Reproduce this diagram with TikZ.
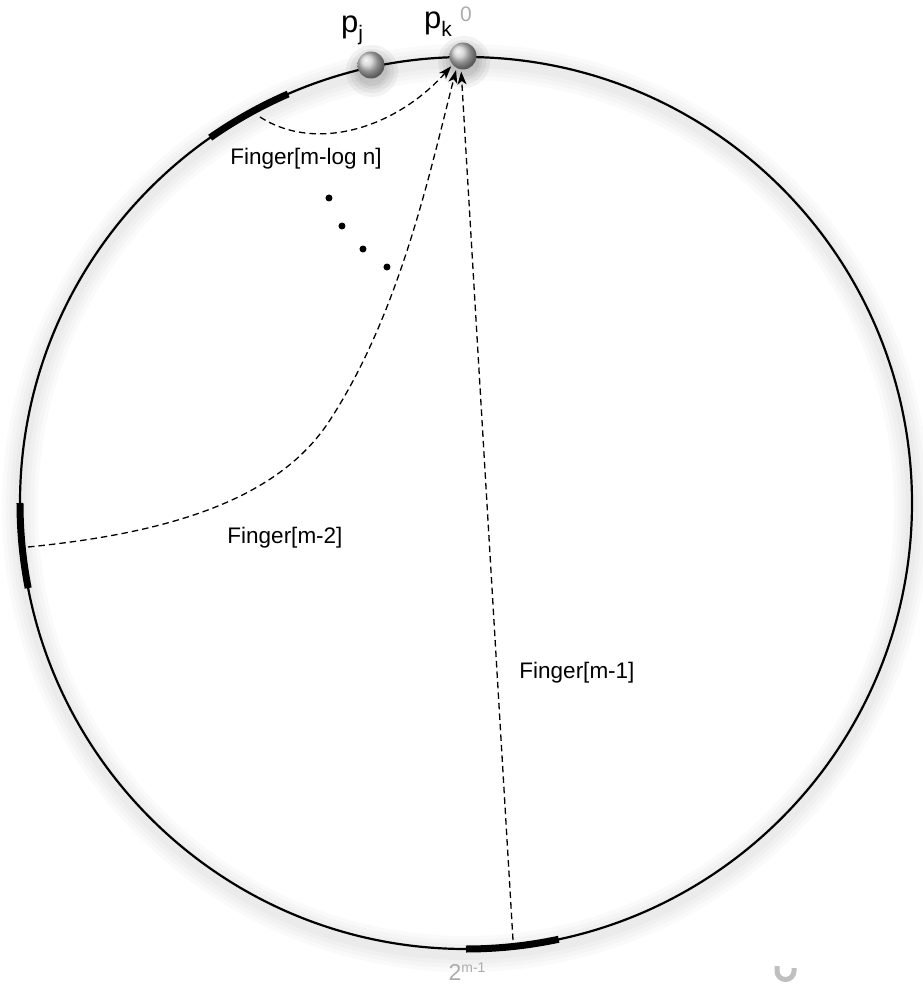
\documentclass[tikz,border=0pt]{standalone}
\usepackage{fontspec}
\setmainfont{Liberation Sans}
\usetikzlibrary{arrows.meta}

\begin{document}
\begin{tikzpicture}[x=1pt,y=1pt,font=\fontsize{22.5}{26}\selectfont,
  sphere/.style={circle,minimum size=27,inner sep=0pt,shading=ball,ball color=gray!40},
  fingerarc/.style={line width=7pt},
  fingerlink/.style={line width=1.3pt,dash pattern=on 6.5pt off 4pt,
    -{Stealth[length=13pt,width=9pt,inset=3.5pt]},shorten >=2pt},
  greylbl/.style={text=gray!65}]
\useasboundingbox (-466,-483) rectangle (457,503);
% soft shade along the ring
\foreach \w in {36,28,20,12}
  \draw[black,opacity=0.018,line width=\w pt] (0,-5) circle (446);
\draw[line width=2.2pt] (0,0) circle (446);
\foreach \a/\b in {113.5/125,180/191,-90/-78}
  \draw[fingerarc] (\a:446) arc[start angle=\a,end angle=\b,radius=446];
% peers on the ring
\foreach \p in {(-2,441),(-94,432)}{
  \foreach \r in {26,22,18,15}
    \fill[black,opacity=0.05] \p circle (\r);}
\node[sphere] (pk) at (-3,447) {};
\node[sphere] (pj) at (-95,438) {};
\node (lblj) at (-114,473) {\fontsize{31}{32}\selectfont p\raisebox{-8pt}{\fontsize{21}{21}\selectfont j}};
\node (lblk) at (-28,479) {\fontsize{31}{32}\selectfont p\raisebox{-8pt}{\fontsize{21}{21}\selectfont k}};
\node[greylbl,font=\fontsize{21}{21}\selectfont] (zero) at (0,489) {0};
% finger entries
\coordinate (f1) at (-206,386);
\coordinate (f2) at (-438,-44);
\coordinate (f3) at (47,-437);
\coordinate (c2) at (-136,83);
\draw[fingerlink] (f1) .. controls (-150,350) and (-70,375) .. (pk.220);
\draw[fingerlink] (f2) .. controls (-308,-31) and (-190,-1) .. (c2)
  .. controls (-65,192) and (-35,336) .. (pk.242);
\draw[fingerlink] (f3) -- (pk.262);
\foreach \p in {(-137,305),(-124,277),(-103,254),(-79,236)}
  \fill \p circle (3.5);
\node (lbl1) at (-160,344) {Finger[m-log n]};
\node (lbl2) at (-181,-35) {Finger[m-2]};
\node (lbl3) at (111,-170) {Finger[m-1]};
\node[greylbl,font=\fontsize{23}{23}\selectfont] (half) at (1,-469) {2\raisebox{8pt}{\fontsize{14}{14}\selectfont m-1}};
% mark in the corner
\draw[gray!50,line width=5pt] (311,-463) -- (311,-468) arc[start angle=180,end angle=360,radius=8.5] -- (328,-465);
\end{tikzpicture}
\end{document}
